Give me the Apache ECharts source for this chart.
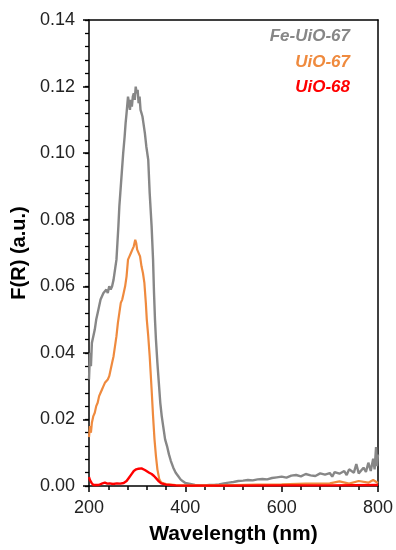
<!DOCTYPE html>
<html>
<head>
<meta charset="utf-8">
<script src="https://cdn.jsdelivr.net/npm/echarts@6/dist/echarts.min.js"></script>
<style>
html,body{margin:0;padding:0;background:#fff;}
#chart{width:396px;height:550px;}
</style>
</head>
<body>
<div id="chart"></div>
<script>
// Fe-UiO-67 (gray)
var feWl = [200,202,204,206,209,212,215,218,221,224,227,230,233,236,239,242,245,248,251,254,257,259,261,263,265,268,271,274,276,278,281,283,285,287,289,291,293,295,297,299,301,303,305,307,309,311,313,316,319,323,326,330,333,335,337,339,342,345,348,351,354,358,362,366,370,375,380,385,390,395,400,410,420,430,440,450,460,470,480,490,500,510,520,530,540,550,560,570,580,590,600,610,620,630,640,650,660,670,680,690,700,705,710,720,730,735,740,750,755,760,770,775,780,785,790,793,796,798,800];
var feVal = [0.032,0.040,0.036,0.043,0.045,0.047,0.050,0.052,0.054,0.056,0.057,0.058,0.058,0.059,0.058,0.060,0.059,0.060,0.062,0.065,0.068,0.073,0.078,0.084,0.088,0.094,0.100,0.105,0.109,0.112,0.117,0.115,0.113,0.116,0.114,0.117,0.118,0.116,0.120,0.118,0.119,0.115,0.117,0.113,0.112,0.111,0.109,0.106,0.102,0.098,0.088,0.078,0.068,0.058,0.050,0.044,0.037,0.031,0.025,0.021,0.018,0.014,0.012,0.0095,0.0075,0.0055,0.004,0.003,0.002,0.0014,0.0009,0.0006,0.0003,0.0002,0.0002,0.0003,0.0003,0.0005,0.0008,0.001,0.0012,0.0015,0.0016,0.0018,0.0017,0.002,0.0021,0.002,0.0024,0.0026,0.0028,0.0025,0.0031,0.0033,0.0029,0.0036,0.0032,0.0030,0.0038,0.0034,0.0039,0.0028,0.0042,0.0037,0.0045,0.0033,0.0050,0.0040,0.0066,0.0038,0.0055,0.0042,0.0070,0.0045,0.0082,0.0050,0.0117,0.0060,0.0095];

// UiO-67 (orange)
var u67Wl = [200,202,204,206,209,212,215,218,221,224,227,230,233,236,239,242,245,248,251,254,257,260,263,266,269,272,275,278,281,284,287,290,293,296,298,300,303,306,309,312,315,318,320,323,326,330,333,336,339,342,346,350,360,380,400,450,500,550,600,650,700,720,740,760,780,790,800];
var u67Val = [0.0147,0.018,0.016,0.019,0.021,0.022,0.024,0.025,0.027,0.028,0.029,0.030,0.031,0.031,0.032,0.033,0.035,0.037,0.039,0.042,0.045,0.049,0.052,0.055,0.056,0.058,0.060,0.063,0.068,0.069,0.070,0.071,0.072,0.074,0.073,0.071,0.071,0.069,0.066,0.064,0.061,0.055,0.050,0.045,0.039,0.029,0.021,0.014,0.009,0.005,0.002,0.001,0.0006,0.0003,0.0002,0.0002,0.0003,0.0004,0.0005,0.0007,0.0008,0.0014,0.0007,0.0015,0.0010,0.0018,0.0009];

// UiO-68 (red)
var u68Wl = [200,202,205,209,213,220,228,233,238,243,250,258,265,272,278,283,288,293,298,303,306,309,313,316,320,325,330,335,340,345,350,360,380,400,500,600,700,800];
var u68Val = [0.0027,0.0018,0.001,0.0003,0.0005,0.0003,0.0008,0.001,0.0007,0.0008,0.0006,0.0008,0.0007,0.0009,0.0015,0.0025,0.0035,0.0045,0.0050,0.0052,0.0055,0.0053,0.0051,0.0048,0.0045,0.0040,0.0036,0.0030,0.0022,0.0014,0.0008,0.0004,0.0002,0.0001,0.0001,0.0002,0.0002,0.0003];

var seriesNames = ['Fe-UiO-67','UiO-67','UiO-68'];
var seriesColors = ['#878787','#ef8a3e','#ff0000'];

function pairs(xs, ys){ return xs.map(function(x,i){ return [x, ys[i]]; }); }

var FONT = '"Liberation Sans", Arial, sans-serif';
var chart = echarts.init(document.getElementById('chart'), null, {renderer:'canvas'});
var blackLine = {show:true, onZero:false, lineStyle:{color:'#000', width:1.5}};
var noLabel = {show:false};

chart.setOption({
  animation:false,
  backgroundColor:'#fff',
  grid:{left:89, right:17, top:20, bottom:64},
  xAxis:[
    {
      type:'value', min:200, max:800, interval:200,
      name:'Wavelength (nm)', nameLocation:'middle', nameGap:38,
      nameTextStyle:{fontFamily:FONT, fontSize:21, fontWeight:'bold', color:'#000'},
      axisLine:blackLine,
      axisTick:{show:true, inside:false, length:6, lineStyle:{color:'#000', width:1.5}},
      splitLine:{show:false},
      axisLabel:{fontFamily:FONT, fontSize:18, color:'#222', margin:13}
    },
    { // minor ticks
      type:'value', min:200, max:800, interval:40, position:'bottom',
      axisLine:{show:false, onZero:false},
      axisTick:{show:true, inside:false, length:4, lineStyle:{color:'#000', width:1.5}},
      splitLine:{show:false}, axisLabel:noLabel
    },
    { // top frame
      type:'value', min:200, max:800, position:'top',
      axisLine:blackLine, axisTick:{show:false}, splitLine:{show:false}, axisLabel:noLabel
    }
  ],
  yAxis:[
    {
      type:'value', min:0, max:0.14, interval:0.02,
      name:'F(R) (a.u.)', nameLocation:'middle', nameGap:58, nameRotate:90,
      nameTextStyle:{fontFamily:FONT, fontSize:20, fontWeight:'bold', color:'#000'},
      axisLine:blackLine,
      axisTick:{show:true, inside:false, length:6, lineStyle:{color:'#000', width:1.5}},
      splitLine:{show:false},
      axisLabel:{fontFamily:FONT, fontSize:18, color:'#222', margin:14, formatter:function(v){return v.toFixed(2);}}
    },
    { // minor ticks
      type:'value', min:0, max:0.14, interval:0.004, position:'left',
      axisLine:{show:false, onZero:false},
      axisTick:{show:true, inside:false, length:4, lineStyle:{color:'#000', width:1.3}},
      splitLine:{show:false}, axisLabel:noLabel
    },
    { // right frame
      type:'value', min:0, max:0.14, position:'right',
      axisLine:blackLine, axisTick:{show:false}, splitLine:{show:false}, axisLabel:noLabel
    }
  ],
  graphic:[
    {type:'text', right:46, top:28, style:{text:seriesNames[0], fill:seriesColors[0], font:'italic bold 17px '+FONT, textAlign:'right'}},
    {type:'text', right:46, top:54, style:{text:seriesNames[1], fill:seriesColors[1], font:'italic bold 17px '+FONT, textAlign:'right'}},
    {type:'text', right:46, top:79, style:{text:seriesNames[2], fill:seriesColors[2], font:'italic bold 17px '+FONT, textAlign:'right'}}
  ],
  series:[
    {name:seriesNames[0], type:'line', data:pairs(feWl, feVal), showSymbol:false, lineStyle:{color:seriesColors[0], width:2.4}, itemStyle:{color:seriesColors[0]}, z:2},
    {name:seriesNames[1], type:'line', data:pairs(u67Wl, u67Val), showSymbol:false, lineStyle:{color:seriesColors[1], width:2.2}, itemStyle:{color:seriesColors[1]}, z:3},
    {name:seriesNames[2], type:'line', data:pairs(u68Wl, u68Val), showSymbol:false, lineStyle:{color:seriesColors[2], width:2.4}, itemStyle:{color:seriesColors[2]}, z:4}
  ]
});
</script>
</body>
</html>
